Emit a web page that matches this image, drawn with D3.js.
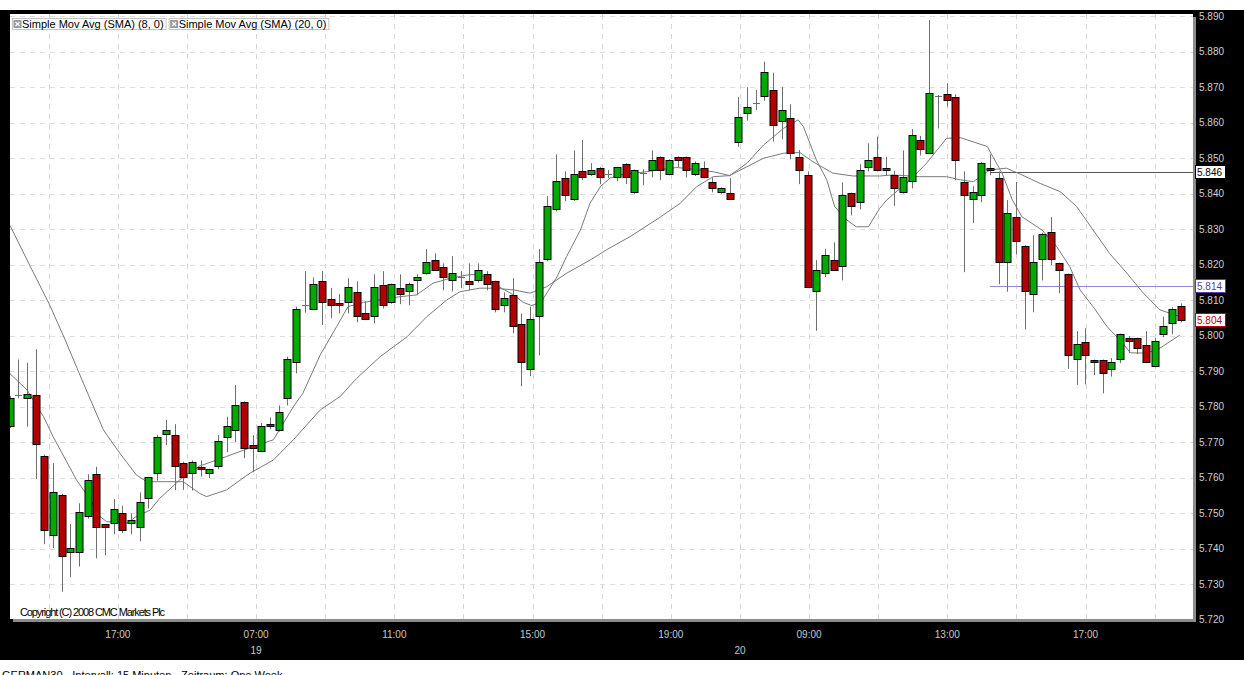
<!DOCTYPE html>
<html>
<head>
<meta charset="utf-8">
<script src="https://cdn.jsdelivr.net/npm/d3@7"></script>
<style>
  body { margin: 0; background: #fff; }
  svg { display: block; }
  text { font-family: "Liberation Sans", Arial, sans-serif; }
</style>
</head>
<body>
<script>
// 15 minute candles
const opens = [5.7745,5.7833,5.7825,5.7832,5.7661,5.7441,5.7551,5.7390,5.7390,5.7492,
  5.7610,5.7469,5.7472,5.7500,5.7472,5.7461,5.7542,5.7613,5.7723,5.7720,
  5.7641,5.7613,5.7630,5.7613,5.7632,5.7714,5.7734,5.7813,5.7692,5.7675,
  5.7751,5.7734,5.7824,5.7925,5.8085,5.8075,5.8153,5.8103,5.8092,5.8094,
  5.8122,5.8063,5.8055,5.8142,5.8094,5.8134,5.8125,5.8156,5.8176,5.8213,
  5.8193,5.8156,5.8166,5.8153,5.8156,5.8173,5.8153,5.8086,5.8114,5.8032,
  5.7906,5.8055,5.8215,5.8356,5.8444,5.8384,5.8463,5.8455,5.8472,5.8455,
  5.8446,5.8483,5.8404,5.8458,5.8466,5.8503,5.8455,5.8503,5.8503,5.8455,
  5.8472,5.8432,5.8404,5.8401,5.8545,5.8625,5.8655,5.8674,5.8691,5.8604,
  5.8612,5.8503,5.8452,5.8125,5.8176,5.8213,5.8196,5.8401,5.8376,5.8475,
  5.8504,5.8472,5.8452,5.8404,5.8435,5.8551,5.8514,5.8676,5.8680,5.8672,
  5.8432,5.8384,5.8396,5.8472,5.8444,5.8207,5.8334,5.8252,5.8117,5.8215,
  5.8291,5.8204,5.8173,5.7934,5.7982,5.7931,5.7931,5.7906,5.7934,5.7993,
  5.7993,5.7973,5.7914,5.8004,5.8035,5.8083];
const highs = [5.7830,5.7933,5.7924,5.7962,5.7665,5.7641,5.7555,5.7470,5.7528,5.7610,
  5.7631,5.7470,5.7540,5.7521,5.7500,5.7559,5.7603,5.7721,5.7763,5.7751,
  5.7645,5.7649,5.7649,5.7626,5.7720,5.7772,5.7861,5.7815,5.7720,5.7754,
  5.7770,5.7804,5.7941,5.8082,5.8182,5.8164,5.8182,5.8134,5.8117,5.8162,
  5.8153,5.8097,5.8173,5.8182,5.8147,5.8173,5.8150,5.8173,5.8244,5.8232,
  5.8204,5.8224,5.8182,5.8204,5.8204,5.8182,5.8155,5.8122,5.8162,5.8063,
  5.8082,5.8244,5.8393,5.8511,5.8463,5.8522,5.8551,5.8486,5.8475,5.8467,
  5.8476,5.8486,5.8468,5.8469,5.8522,5.8505,5.8497,5.8505,5.8505,5.8491,
  5.8491,5.8446,5.8418,5.8444,5.8672,5.8700,5.8692,5.8772,5.8741,5.8700,
  5.8652,5.8523,5.8463,5.8213,5.8245,5.8263,5.8432,5.8403,5.8483,5.8542,
  5.8561,5.8504,5.8465,5.8522,5.8582,5.8563,5.8889,5.8678,5.8711,5.8680,
  5.8463,5.8421,5.8489,5.8511,5.8463,5.8382,5.8433,5.8255,5.8283,5.8290,
  5.8334,5.8206,5.8175,5.8013,5.8021,5.7933,5.7933,5.7937,5.8006,5.7999,
  5.7995,5.8013,5.7993,5.8054,5.8080,5.8091];
const lows = [5.7740,5.7824,5.7744,5.7596,5.7413,5.7402,5.7279,5.7320,5.7350,5.7485,
  5.7373,5.7382,5.7441,5.7444,5.7441,5.7421,5.7514,5.7592,5.7692,5.7565,
  5.7566,5.7564,5.7603,5.7599,5.7624,5.7672,5.7700,5.7655,5.7616,5.7672,
  5.7737,5.7730,5.7804,5.7894,5.8065,5.8075,5.8030,5.8049,5.8063,5.8063,
  5.8038,5.8044,5.8035,5.8077,5.8090,5.8089,5.8086,5.8114,5.8172,5.8182,
  5.8128,5.8125,5.8134,5.8128,5.8150,5.8128,5.8066,5.8066,5.8007,5.7858,
  5.7886,5.7945,5.8210,5.8350,5.8379,5.8380,5.8438,5.8450,5.8427,5.8444,
  5.8435,5.8427,5.8400,5.8424,5.8446,5.8438,5.8452,5.8475,5.8446,5.8450,
  5.8443,5.8404,5.8400,5.8382,5.8532,5.8606,5.8636,5.8662,5.8547,5.8553,
  5.8497,5.8427,5.8135,5.8014,5.8165,5.8182,5.8156,5.8339,5.8356,5.8463,
  5.8463,5.8451,5.8366,5.8400,5.8415,5.8508,5.8512,5.8584,5.8645,5.8438,
  5.8179,5.8317,5.8376,5.8452,5.8145,5.8124,5.8229,5.8018,5.8066,5.8156,
  5.8199,5.8120,5.7907,5.7862,5.7863,5.7889,5.7838,5.7885,5.7923,5.7951,
  5.7948,5.7923,5.7912,5.7996,5.8004,5.8038];
const closes = [5.7824,5.7834,5.7835,5.7694,5.7452,5.7561,5.7379,5.7402,5.7503,5.7593,
  5.7461,5.7461,5.7511,5.7452,5.7480,5.7531,5.7601,5.7714,5.7734,5.7632,
  5.7601,5.7644,5.7624,5.7624,5.7703,5.7745,5.7804,5.7683,5.7683,5.7745,
  5.7745,5.7785,5.7934,5.8075,5.8088,5.8145,5.8094,5.8086,5.8086,5.8137,
  5.8055,5.8046,5.8137,5.8086,5.8145,5.8117,5.8145,5.8165,5.8207,5.8184,
  5.8165,5.8176,5.8165,5.8145,5.8184,5.8145,5.8075,5.8106,5.8027,5.7925,
  5.8046,5.8207,5.8365,5.8435,5.8396,5.8455,5.8446,5.8466,5.8446,5.8455,
  5.8474,5.8446,5.8466,5.8458,5.8494,5.8466,5.8494,5.8494,5.8466,5.8486,
  5.8446,5.8415,5.8415,5.8384,5.8615,5.8643,5.8655,5.8742,5.8593,5.8635,
  5.8514,5.8466,5.8137,5.8184,5.8227,5.8184,5.8396,5.8365,5.8466,5.8494,
  5.8466,5.8466,5.8415,5.8446,5.8565,5.8525,5.8683,5.8674,5.8663,5.8494,
  5.8396,5.8404,5.8486,5.8466,5.8207,5.8345,5.8266,5.8125,5.8207,5.8286,
  5.8215,5.8184,5.7945,5.7976,5.7945,5.7925,5.7894,5.7925,5.8004,5.7984,
  5.7965,5.7925,5.7984,5.8027,5.8075,5.8044];

// moving averages as drawn, [candle index, price]
const sma8 = [[0,5.7894],[2,5.7847],[3.9,5.7772],[5,5.7716],[7.7,5.7594],[9.3,5.7538],
  [10.4,5.7491],[11.2,5.7476],[12.7,5.7476],[13.5,5.7472],[14.6,5.7491],[16.2,5.7509],
  [17.3,5.7542],[20,5.7603],[21.9,5.7633],[25,5.7660],[28.1,5.7688],[30.4,5.7707],
  [32.7,5.7800],[33.8,5.7838],[35.8,5.7946],[37.7,5.8026],[39,5.8082],[40.8,5.8094],
  [42.7,5.8101],[45,5.8110],[46.9,5.8115],[48.8,5.8148],[50.8,5.8162],[52.7,5.8171],
  [54.2,5.8173],[55.8,5.8146],[58.1,5.8115],[59.2,5.8094],[60.2,5.8085],[61.3,5.8096],
  [63.1,5.8166],[64.2,5.8223],[65.8,5.8298],[66.9,5.8373],[68.1,5.8420],[69.2,5.8444],
  [70.4,5.8453],[73.4,5.8462],[76.9,5.8474],[78.8,5.8469],[81.1,5.8462],[83,5.8451],
  [85,5.8486],[86.9,5.8537],[89.2,5.8584],[90.9,5.8608],[91.5,5.8589],[93,5.8495],
  [94.2,5.8439],[95.1,5.8364],[96.5,5.8326],[97.6,5.8307],[99,5.8307],[100.3,5.8359],
  [101.1,5.8382],[103.8,5.8439],[105.7,5.8486],[108,5.8556],[109.6,5.8558],[112.7,5.8533],
  [114.4,5.8458],[115.6,5.8382],[116.7,5.8335],[119,5.8298],[120.7,5.8251],[122.2,5.8195],
  [123.4,5.8129],[124.9,5.8082],[126.5,5.8026],[128,5.7988],[129.2,5.7952],[131.1,5.7951],
  [132.6,5.7965],[134.9,5.8002]];
const sma20 = [[0,5.8312],[2.3,5.8199],[4.6,5.8087],[6.4,5.7988],[8.5,5.7866],[10.8,5.7735],
  [12.7,5.7669],[14.6,5.7608],[15.8,5.7589],[18.1,5.7589],[20,5.7589],[21.9,5.7556],
  [22.7,5.7547],[25,5.7566],[27.7,5.7613],[30.4,5.7650],[32.7,5.7707],[35.8,5.7791],
  [38.1,5.7829],[40,5.7880],[42.7,5.7941],[45.8,5.7997],[48.1,5.8054],[50.4,5.8101],
  [51.9,5.8124],[54.2,5.8134],[55.9,5.8134],[58.1,5.8129],[60,5.8120],[61.9,5.8138],
  [64.2,5.8176],[66.9,5.8213],[68.8,5.8242],[71.5,5.8279],[75,5.8334],[77.3,5.8373],
  [79.2,5.8420],[81.1,5.8448],[83,5.8451],[86.9,5.8500],[89.2,5.8514],[91.1,5.8516],
  [92.6,5.8490],[94.9,5.8458],[97.2,5.8450],[100.3,5.8450],[101.9,5.8453],[104.9,5.8448],
  [108,5.8448],[109.6,5.8439],[111.1,5.8434],[113,5.8467],[114.9,5.8472],[116.7,5.8453],
  [118.8,5.8429],[121.1,5.8406],[123,5.8364],[124.9,5.8298],[126.8,5.8232],[128.8,5.8176],
  [130.7,5.8120],[132.6,5.8073],[134.9,5.8054]];

const priceTicks = d3.range(5.720, 5.8901, 0.010);
const timeLabels = ['17:00', '07:00', '11:00', '15:00', '19:00', '09:00', '13:00', '17:00'];
const dateLabels = [['19', 3], ['20', 10]];     // label, grid slot
const legendLabels = ['Simple Mov Avg (SMA) (8, 0)', 'Simple Mov Avg (SMA) (20, 0)'];
const lineLevels = [[5.846, '#555', '#000'], [5.814, '#9b84d6', '#5a3aa8']];
const titleText = 'GERMAN30 - Intervall: 15 Minuten - Zeitraum: One Week';

const W = 1244, H = 675;
const plot = { left: 10, top: 14, right: 1193, bottom: 619 };

const svg = d3.select('body').append('svg')
  .attr('width', W)
  .attr('height', H);

svg.append('rect').attr('x', 0).attr('y', 10).attr('width', W).attr('height', 650).attr('fill', '#000');
//shadow of the white panel
svg.append('rect')
  .attr('x', plot.left + 3).attr('y', plot.top + 3)
  .attr('width', plot.right - plot.left).attr('height', plot.bottom - plot.top)
  .attr('fill', '#8c8c8c');
svg.append('rect')
  .attr('x', plot.left).attr('y', plot.top)
  .attr('width', plot.right - plot.left).attr('height', plot.bottom - plot.top)
  .attr('fill', '#fff');

svg.append('clipPath').attr('id', 'clip')
  .append('rect')
  .attr('x', plot.left).attr('y', plot.top)
  .attr('width', plot.right - plot.left).attr('height', plot.bottom - plot.top);

let x = d3.scaleLinear().domain([0, 135]).range([9.7, 1180.7]);
let y = d3.scaleLinear().domain([5.720, 5.890]).range([619.8, 16.2]);
let gridX = d3.scaleLinear().domain([0, 16]).range([x(4.5), x(132)]);   //one slot = 2 hours

let g = svg.append('g').attr('clip-path', 'url(#clip)');

//dashed grid
g.selectAll('line.hgrid')
  .data(priceTicks)
  .enter().append('line')
  .attr('class', 'hgrid')
  .attr('x1', plot.left).attr('x2', plot.right)
  .attr('y1', d => Math.round(y(d)) + 0.5).attr('y2', d => Math.round(y(d)) + 0.5)
  .attr('stroke', '#dedede')
  .attr('stroke-dasharray', '5,5');

g.selectAll('line.vgrid')
  .data(d3.range(0, 17))
  .enter().append('line')
  .attr('class', 'vgrid')
  .attr('x1', d => Math.round(gridX(d)) + 0.5).attr('x2', d => Math.round(gridX(d)) + 0.5)
  .attr('y1', plot.top).attr('y2', plot.bottom)
  .attr('stroke', '#d6d6d6')
  .attr('stroke-dasharray', '5,5');

//horizontal level lines
g.selectAll('line.level')
  .data(lineLevels)
  .enter().append('line')
  .attr('class', 'level')
  .attr('x1', x(113)).attr('x2', plot.right)
  .attr('y1', d => Math.round(y(d[0])) + 0.5).attr('y2', d => Math.round(y(d[0])) + 0.5)
  .attr('stroke', d => d[1]);

//moving averages
let smaLine = d3.line()
  .x(d => x(d[0]))
  .y(d => y(d[1]));

[sma20, sma8].forEach(function(s) {
  g.append('path')
    .datum(s)
    .attr('d', smaLine)
    .attr('fill', 'none')
    .attr('stroke', '#7a7a7a')
    .attr('stroke-width', 1);
});

//candles
let candles = opens.map((o, i) => ({ i: i, o: o, h: highs[i], l: lows[i], c: closes[i] }));

let candle = g.selectAll('g.candle')
  .data(candles)
  .enter().append('g')
  .attr('class', 'candle');

candle.append('line')
  .attr('x1', d => Math.round(x(d.i)) + 0.5).attr('x2', d => Math.round(x(d.i)) + 0.5)
  .attr('y1', d => y(d.h)).attr('y2', d => y(d.l))
  .attr('stroke', '#6e6e6e');

candle.filter(d => Math.abs(d.o - d.c) < 0.00035)
  .append('line')
  .attr('x1', d => Math.round(x(d.i)) - 3).attr('x2', d => Math.round(x(d.i)) + 4)
  .attr('y1', d => Math.round(y(d.c)) + 0.5).attr('y2', d => Math.round(y(d.c)) + 0.5)
  .attr('stroke', '#6e6e6e');

candle.filter(d => Math.abs(d.o - d.c) >= 0.00035)
  .append('rect')
  .attr('x', d => Math.round(x(d.i)) - 3)
  .attr('y', d => Math.round(y(Math.max(d.o, d.c))) + 0.5)
  .attr('width', 7)
  .attr('height', d => Math.max(1, Math.round(y(Math.min(d.o, d.c)) - y(Math.max(d.o, d.c)))))
  .attr('fill', d => d.c > d.o ? '#00ab00' : '#b30000')
  .attr('stroke', '#000')
  .attr('stroke-width', 1);

//legend
let lx = 12;
legendLabels.forEach(function(label) {
  let item = svg.append('g').attr('transform', 'translate(' + lx + ',18)');
  let t = item.append('text')
    .attr('x', 10).attr('y', 9.5)
    .attr('font-size', 11)
    .attr('fill', '#000')
    .text(label);
  let w = t.node().getComputedTextLength() + 12;
  item.insert('rect', 'text')
    .attr('x', 0.5).attr('y', 0.5).attr('width', w).attr('height', 11)
    .attr('fill', '#fff').attr('stroke', '#c4c4c4');
  item.append('rect')
    .attr('x', 1.5).attr('y', 2).attr('width', 8).attr('height', 8)
    .attr('fill', '#9a9a9a');
  item.append('path')
    .attr('d', 'M3.5,4 L7.5,8 M7.5,4 L3.5,8')
    .attr('stroke', '#fff').attr('stroke-width', 1.2);
  lx += w + 3;
});

svg.append('text')
  .attr('x', 20).attr('y', 616)
  .attr('font-size', 11)
  .attr('fill', '#000')
  .attr('textLength', 145)
  .text('Copyright (C) 2008 CMC Markets Plc');

//right price axis
svg.selectAll('text.ptick')
  .data(priceTicks)
  .enter().append('text')
  .attr('class', 'ptick')
  .attr('x', 1199)
  .attr('y', d => y(d) + 3.5)
  .attr('font-size', 10)
  .attr('fill', '#cfcfcf')
  .text(d => d3.format('.3f')(d));

//price markers on the axis
let markers = lineLevels.map(d => [d[0], d[2]]).concat([[closes[closes.length - 1], '#c00000']]);
let marker = svg.selectAll('g.marker')
  .data(markers)
  .enter().append('g')
  .attr('class', 'marker')
  .attr('transform', d => 'translate(1195,' + Math.round(y(d[0])) + ')');

marker.append('rect')
  .attr('x', 0.5).attr('y', -6.5).attr('width', 30).attr('height', 13)
  .attr('fill', '#fff')
  .attr('stroke', d => d[1]);

marker.append('text')
  .attr('x', 2).attr('y', 4)
  .attr('font-size', 10)
  .attr('fill', d => d[1])
  .text(d => d3.format('.3f')(d[0]));

//time axis
svg.selectAll('text.ttick')
  .data(timeLabels)
  .enter().append('text')
  .attr('class', 'ttick')
  .attr('x', (d, i) => gridX(1 + 2 * i))
  .attr('y', 638)
  .attr('text-anchor', 'middle')
  .attr('font-size', 10)
  .attr('fill', '#c8c8c8')
  .text(d => d);

svg.selectAll('text.dtick')
  .data(dateLabels)
  .enter().append('text')
  .attr('class', 'dtick')
  .attr('x', d => gridX(d[1]))
  .attr('y', 654)
  .attr('text-anchor', 'middle')
  .attr('font-size', 10)
  .attr('fill', '#c8c8c8')
  .text(d => d[0]);

svg.append('text')
  .attr('x', 2).attr('y', 679)
  .attr('font-size', 11)
  .attr('fill', '#000')
  .text(titleText);
</script>
</body>
</html>
